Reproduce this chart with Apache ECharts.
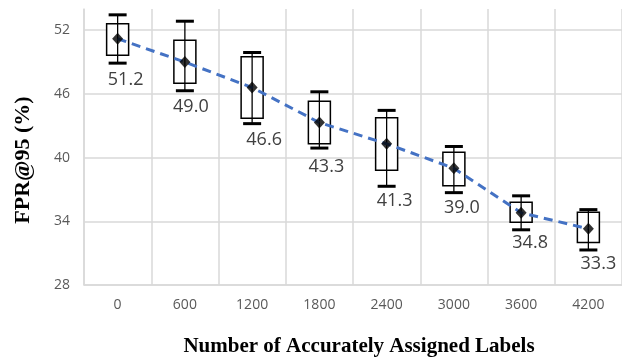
<!DOCTYPE html>
<html>
<head>
<meta charset="utf-8">
<script src="https://cdn.jsdelivr.net/npm/echarts@6/dist/echarts.min.js"></script>
<style>html,body{margin:0;padding:0;background:#fff}#c{width:622px;height:358px}</style>
</head>
<body>
<div id="c"></div>
<script>
const categories = ['0', '600', '1200', '1800', '2400', '3000', '3600', '4200'];
const whiskerLow  = [48.9, 46.3, 43.2, 40.9, 37.3, 36.7, 33.2, 31.3];
const boxLow      = [49.65, 47.0, 43.7, 41.3, 38.8, 37.35, 33.9, 32.0];
const boxHigh     = [52.6, 51.05, 49.5, 45.3, 43.75, 40.5, 35.8, 34.85];
const whiskerHigh = [53.45, 52.85, 49.9, 46.2, 44.45, 41.05, 36.4, 35.1];
const means       = [51.2, 49.0, 46.6, 43.3, 41.3, 39.0, 34.8, 33.3];
const yTicks = { min: 28, max: 54, interval: 6 };

// label nudges in pixels (style only)
const labelDx = [8, 6, 12, 7, 8, 8, 9, 10];
const labelDy = [17, 16, 16, 18.5, 15, 15, 13, 14];

const boxData = categories.map((c, i) => [i, whiskerLow[i], boxLow[i], boxHigh[i], whiskerHigh[i]]);

const chart = echarts.init(document.getElementById('c'), null, { renderer: 'canvas' });
const gridColor = '#d9d9d9';
const tickFont = { color: '#595959', fontFamily: 'Open Sans', fontSize: 14 };
chart.setOption({
  animation: false,
  backgroundColor: '#fff',
  grid: { left: 84, top: 9, width: 539, height: 276, containLabel: false },
  xAxis: {
    type: 'category',
    data: categories,
    boundaryGap: true,
    axisLine: { show: true, lineStyle: { color: gridColor, width: 1.5 } },
    axisTick: { show: false },
    axisLabel: Object.assign({ margin: 13 }, tickFont),
    splitLine: { show: true, lineStyle: { color: gridColor, width: 1.5 } }
  },
  yAxis: {
    type: 'value',
    min: yTicks.min, max: yTicks.max, interval: yTicks.interval,
    axisLine: { show: true, lineStyle: { color: gridColor, width: 1.5 } },
    axisTick: { show: false },
    axisLabel: Object.assign({ margin: 14, showMaxLabel: false }, tickFont),
    splitLine: { show: true, showMaxLine: false, lineStyle: { color: gridColor, width: 1.5 } }
  },
  graphic: [
    { type: 'text', x: 23, y: 160, rotation: Math.PI / 2,
      style: { text: 'FPR@95 (%)', align: 'center', verticalAlign: 'middle',
               font: 'bold 22px "Liberation Serif"', fill: '#000' } },
    { type: 'text', x: 359, y: 347,
      style: { text: 'Number of Accurately Assigned Labels', align: 'center', verticalAlign: 'middle',
               font: 'bold 21px "Liberation Serif"', fill: '#000' } }
  ],
  series: [
    {
      type: 'custom',
      z: 1,
      data: boxData,
      encode: { x: 0, y: [1, 2, 3, 4] },
      renderItem: function (params, api) {
        const i = api.value(0);
        const pWL = api.coord([i, api.value(1)]);
        const pQ1 = api.coord([i, api.value(2)]);
        const pQ3 = api.coord([i, api.value(3)]);
        const pWH = api.coord([i, api.value(4)]);
        const bw = 22, cw = 18, x = pWL[0];
        const blk = '#000';
        return {
          type: 'group',
          children: [
            { type: 'rect', shape: { x: x - bw / 2, y: pQ3[1], width: bw, height: pQ1[1] - pQ3[1] },
              style: { fill: '#fff', stroke: blk, lineWidth: 1.5 } },
            { type: 'line', shape: { x1: x, y1: pWH[1], x2: x, y2: pWL[1] },
              style: { stroke: blk, lineWidth: 1.3 } },
            { type: 'line', shape: { x1: x - cw / 2, y1: pWH[1], x2: x + cw / 2, y2: pWH[1] },
              style: { stroke: blk, lineWidth: 3 } },
            { type: 'line', shape: { x1: x - cw / 2, y1: pWL[1], x2: x + cw / 2, y2: pWL[1] },
              style: { stroke: blk, lineWidth: 3 } },
            { type: 'text', x: x + labelDx[params.dataIndex], y: pWL[1] + labelDy[params.dataIndex],
              style: { text: means[params.dataIndex].toFixed(1), align: 'center', verticalAlign: 'middle',
                       font: '18px "Open Sans"', fill: '#404040' } }
          ]
        };
      }
    },
    {
      type: 'line',
      z: 2,
      data: means,
      symbol: 'none',
      lineStyle: { color: '#4472C4', width: 3, type: [9, 6] }
    },
    {
      type: 'scatter',
      z: 3,
      data: means,
      symbol: 'diamond',
      symbolSize: [11, 12],
      itemStyle: { color: '#000' }
    }
  ]
});
</script>
</body>
</html>
